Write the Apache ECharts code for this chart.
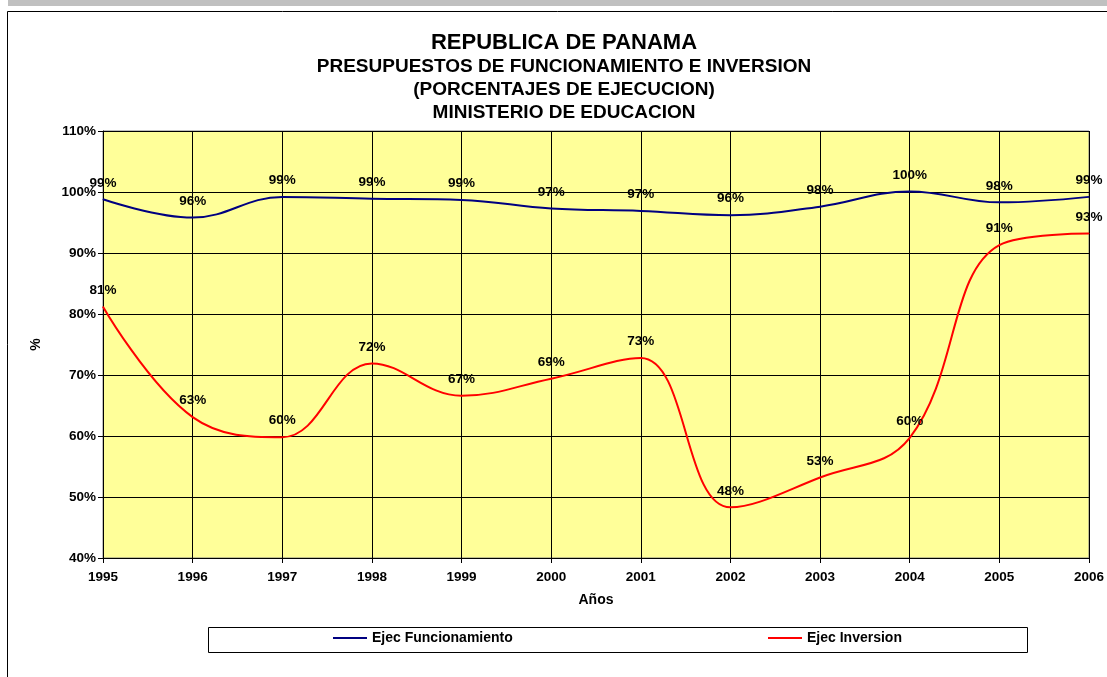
<!DOCTYPE html>
<html>
<head>
<meta charset="utf-8">
<script src="https://cdn.jsdelivr.net/npm/echarts@6/dist/echarts.min.js"></script>
<style>
  html, body { margin: 0; padding: 0; background: #fff; }
  #chart { width: 1107px; height: 677px; }
</style>
</head>
<body>
<div id="chart"></div>
<script>
// años y porcentajes de ejecucion
var years = ['1995', '1996', '1997', '1998', '1999', '2000', '2001', '2002', '2003', '2004', '2005', '2006'];
var funcionamiento = [98.8, 95.8, 99.2, 98.9, 98.7, 97.3, 96.9, 96.2, 97.6, 100.1, 98.3, 99.2];
var inversion = [81.2, 63.1, 59.8, 71.9, 66.6, 69.4, 72.8, 48.3, 53.2, 59.7, 91.3, 93.2];
var yTicks = [40, 110, 10]; // min, max, intervalo

var FONT = '"Liberation Sans", Arial, sans-serif';
var chart = echarts.init(document.getElementById('chart'));

function pct(p) {
    return Math.round(p.value) + '%';
}

var labelStyle = {
    show: true,
    position: 'top',
    distance: 9,
    formatter: pct,
    color: '#000',
    fontFamily: FONT,
    fontWeight: 'bold',
    fontSize: 13.5
};

chart.setOption({
    animation: false,
    backgroundColor: '#fff',
    textStyle: { fontFamily: FONT },
    title: {
        text: 'REPUBLICA DE PANAMA',
        subtext: 'PRESUPUESTOS DE FUNCIONAMIENTO E INVERSION\n(PORCENTAJES DE EJECUCION)\nMINISTERIO DE EDUCACION',
        left: 559,
        textAlign: 'center',
        top: 27,
        itemGap: 1,
        textStyle: { color: '#000', fontFamily: FONT, fontWeight: 'bold', fontSize: 22, lineHeight: 21 },
        subtextStyle: { color: '#000', fontFamily: FONT, fontWeight: 'bold', fontSize: 19, lineHeight: 23 }
    },
    graphic: [
        { type: 'rect', silent: true, shape: { x: 8, y: 0, width: 1099, height: 6 }, style: { fill: '#c0c0c0' } },
        { type: 'rect', silent: true, shape: { x: 7.5, y: 11.5, width: 1110, height: 700 }, style: { fill: 'none', stroke: '#000', lineWidth: 1 } },
        { type: 'rect', silent: true, shape: { x: 208.5, y: 627.5, width: 819, height: 25 }, style: { fill: '#fff', stroke: '#000', lineWidth: 1 }, z: -1 }
    ],
    legend: [
        {
            data: ['Ejec Funcionamiento'],
            left: 333, top: 631, padding: 0,
            icon: 'rect', itemWidth: 34, itemHeight: 2, itemGap: 4,
            textStyle: { color: '#000', fontFamily: FONT, fontWeight: 'bold', fontSize: 14 }
        },
        {
            data: ['Ejec Inversion'],
            left: 768, top: 631, padding: 0,
            icon: 'rect', itemWidth: 34, itemHeight: 2, itemGap: 4,
            textStyle: { color: '#000', fontFamily: FONT, fontWeight: 'bold', fontSize: 14 }
        }
    ],
    grid: {
        left: 103, right: 17, top: 131, bottom: 119,
        show: true,
        backgroundColor: '#ffff99',
        borderColor: '#808080',
        borderWidth: 1
    },
    xAxis: {
        type: 'category',
        data: years,
        boundaryGap: false,
        name: 'Años',
        nameLocation: 'middle',
        nameGap: 35,
        nameTextStyle: { color: '#000', fontFamily: FONT, fontWeight: 'bold', fontSize: 14 },
        axisLine: { lineStyle: { color: '#000', width: 1 } },
        axisTick: { show: true, length: 5, lineStyle: { color: '#000' } },
        axisLabel: { color: '#000', fontFamily: FONT, fontWeight: 'bold', fontSize: 13.5, margin: 12 },
        splitLine: { show: true, lineStyle: { color: '#000', width: 1 } }
    },
    yAxis: {
        type: 'value',
        min: yTicks[0],
        max: yTicks[1],
        interval: yTicks[2],
        name: '%',
        nameLocation: 'middle',
        nameGap: 60,
        nameTextStyle: { color: '#000', fontFamily: FONT, fontWeight: 'bold', fontSize: 14 },
        axisLine: { show: true, lineStyle: { color: '#000', width: 1 } },
        axisTick: { show: true, length: 5, lineStyle: { color: '#000' } },
        axisLabel: { color: '#000', fontFamily: FONT, fontWeight: 'bold', fontSize: 13.5, margin: 7, formatter: '{value}%' },
        splitLine: { show: true, lineStyle: { color: '#000', width: 1 } }
    },
    series: [
        {
            name: 'Ejec Funcionamiento',
            type: 'line',
            data: funcionamiento,
            smooth: 0.4,
            symbol: 'circle',
            symbolSize: 1,
            showSymbol: true,
            itemStyle: { color: '#000080' },
            lineStyle: { color: '#000080', width: 2 },
            label: labelStyle,
            z: 3
        },
        {
            name: 'Ejec Inversion',
            type: 'line',
            data: inversion,
            smooth: 0.4,
            symbol: 'circle',
            symbolSize: 1,
            showSymbol: true,
            itemStyle: { color: '#ff0000' },
            lineStyle: { color: '#ff0000', width: 2 },
            label: labelStyle,
            z: 3
        }
    ]
});
</script>
</body>
</html>
